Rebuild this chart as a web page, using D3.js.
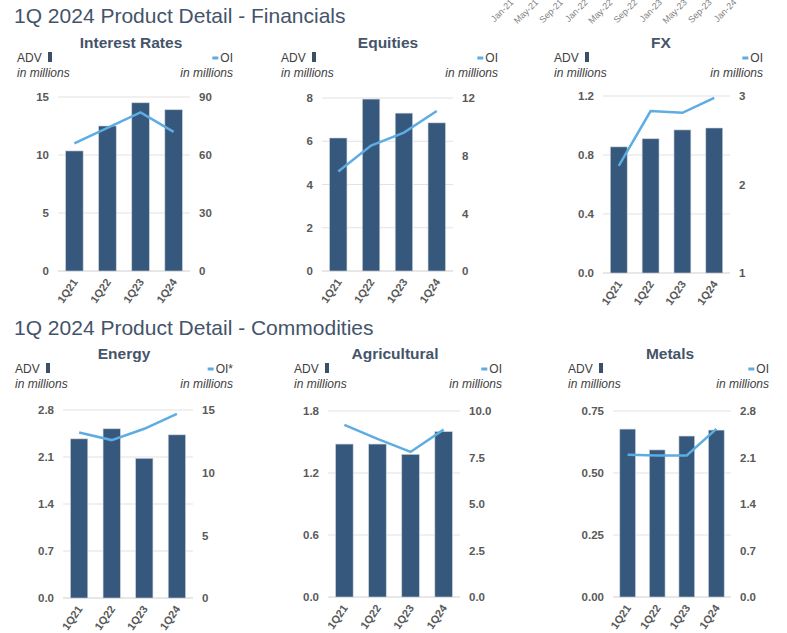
<!DOCTYPE html>
<html>
<head>
<meta charset="utf-8">
<script src="https://cdn.jsdelivr.net/npm/d3@7"></script>
<style>
  body { margin: 0; background: #fff; }
  svg { font-family: "Liberation Sans", Arial, sans-serif; }
</style>
</head>
<body>
<svg id="page" width="787" height="633"></svg>
<script>
/* data */
const quarters = ["1Q21", "1Q22", "1Q23", "1Q24"];
const dateLabels = ["Jan-21", "May-21", "Sep-21", "Jan-22", "May-22", "Sep-22", "Jan-23", "May-23", "Sep-23", "Jan-24"];

const irAdv = [10.35, 12.5, 14.5, 13.9];
const irOi = [66, 74, 82, 72];
const eqAdv = [6.15, 7.95, 7.3, 6.85];
const eqOi = [6.9, 8.7, 9.6, 11.1];
const fxAdv = [0.855, 0.91, 0.97, 0.983];
const fxOi = [2.21, 2.83, 2.81, 2.98];
const enAdv = [2.37, 2.52, 2.08, 2.43];
const enOi = [13.2, 12.6, 13.5, 14.7];
const agAdv = [1.48, 1.48, 1.38, 1.6];
const agOi = [9.25, 8.5, 7.8, 9.0];
const mtAdv = [0.677, 0.593, 0.649, 0.673];
const mtOi = [2.14, 2.13, 2.13, 2.53];

const irTicksL = [0, 5, 10, 15], irTicksR = [0, 30, 60, 90];
const eqTicksL = [0, 2, 4, 6, 8], eqTicksR = [0, 4, 8, 12];
const fxTicksL = [0, 0.4, 0.8, 1.2], fxTicksR = [1, 2, 3];
const enTicksL = [0, 0.7, 1.4, 2.1, 2.8], enTicksR = [0, 5, 10, 15];
const agTicksL = [0, 0.6, 1.2, 1.8], agTicksR = [0, 2.5, 5, 7.5, 10];
const mtTicksL = [0, 0.25, 0.5, 0.75], mtTicksR = [0, 0.7, 1.4, 2.1, 2.8];

const barColor = "#36587c";
const lineColor = "#5dade2";
const titleColor = "#44546a";
const tickColor = "#595959";

let svg = d3.select("#page");

/* leftover date labels, partly cut off at the top */
let dateX = d3.scalePoint().domain(dateLabels).range([514, 737]);
svg.append("g").attr("id", "dates")
    .selectAll("text")
    .data(dateLabels)
    .join("text")
    .attr("transform", d => "translate(" + dateX(d) + ",3) rotate(-45)")
    .attr("text-anchor", "end")
    .style("font-size", "9px")
    .style("fill", "#7f7f7f")
    .text(d => d);

/* section titles */
svg.append("text").attr("x", 14).attr("y", 23)
    .style("font-size", "21px").style("fill", titleColor)
    .text("1Q 2024 Product Detail - Financials");
svg.append("text").attr("x", 14).attr("y", 335)
    .style("font-size", "21px").style("fill", titleColor)
    .text("1Q 2024 Product Detail - Commodities");

function drawPanel(p) {
    let g = svg.append("g").attr("class", "panel");

    let xScale = d3.scaleBand()
        .domain(quarters)
        .range([p.x0, p.x1])
        .paddingInner(0.47)
        .paddingOuter(0.23);

    let yL = d3.scaleLinear().domain(p.domL).range([p.y1, p.y0]);
    let yR = d3.scaleLinear().domain(p.domR).range([p.y1, p.y0]);

    /* titles and legend */
    g.append("text").attr("x", p.titleX).attr("y", p.titleY)
        .attr("text-anchor", "middle")
        .style("font-size", "15.5px").style("font-weight", "bold")
        .style("fill", titleColor).text(p.title);

    g.append("text").attr("x", p.advX).attr("y", p.titleY + 14)
        .style("font-size", "12px").style("fill", "#404040").text("ADV");
    g.append("rect").attr("x", p.advX + 31).attr("y", p.titleY + 4)
        .attr("width", 4).attr("height", 10).style("fill", "#3b5068");
    g.append("text").attr("x", p.advX).attr("y", p.titleY + 29)
        .style("font-size", "12px").style("font-style", "italic")
        .style("fill", "#404040").text("in millions");

    let oiText = g.append("text").attr("x", p.oiX).attr("y", p.titleY + 14)
        .attr("text-anchor", "end")
        .style("font-size", "12px").style("fill", "#404040").text(p.oiLabel);
    let oiW = oiText.node().getComputedTextLength();
    g.append("line")
        .attr("x1", p.oiX - oiW - 8).attr("x2", p.oiX - oiW - 2)
        .attr("y1", p.titleY + 10).attr("y2", p.titleY + 10)
        .style("stroke", lineColor).style("stroke-width", 3);
    g.append("text").attr("x", p.oiX).attr("y", p.titleY + 29)
        .attr("text-anchor", "end")
        .style("font-size", "12px").style("font-style", "italic")
        .style("fill", "#404040").text("in millions");

    /* gridlines */
    g.append("g")
        .selectAll("line")
        .data(p.ticksL)
        .join("line")
        .attr("x1", p.x0).attr("x2", p.x1)
        .attr("y1", d => yL(d)).attr("y2", d => yL(d))
        .style("stroke", d => d === 0 ? "#cfcfcf" : "#e2e2e2")
        .style("stroke-width", 1.2);

    /* axes */
    let axL = g.append("g")
        .attr("transform", "translate(" + (p.x0 - 9) + ",0)")
        .call(d3.axisLeft(yL).tickValues(p.ticksL).tickSize(0).tickFormat(d3.format(p.fmtL)));
    let axR = g.append("g")
        .attr("transform", "translate(" + (p.x1 + 9) + ",0)")
        .call(d3.axisRight(yR).tickValues(p.ticksR).tickSize(0).tickFormat(d3.format(p.fmtR)));
    [axL, axR].forEach(ax => {
        ax.select(".domain").remove();
        ax.selectAll("text")
            .attr("x", null)
            .style("font-size", "11.5px").style("font-weight", "bold")
            .style("fill", tickColor)
            .style("font-family", "'Liberation Sans', Arial, sans-serif");
    });

    let axX = g.append("g")
        .attr("transform", "translate(0," + p.y1 + ")")
        .call(d3.axisBottom(xScale).tickSize(0));
    axX.select(".domain").remove();
    axX.selectAll("text")
        .attr("y", null).attr("dy", null)
        .attr("text-anchor", "end")
        .attr("transform", "translate(4,11) rotate(-55)")
        .style("font-size", "11px").style("font-weight", "bold")
        .style("fill", tickColor)
        .style("font-family", "'Liberation Sans', Arial, sans-serif");

    /* bars */
    g.append("g")
        .selectAll("rect")
        .data(p.adv)
        .join("rect")
        .attr("x", (d, i) => xScale(quarters[i]))
        .attr("width", xScale.bandwidth())
        .attr("y", d => yL(d))
        .attr("height", d => p.y1 - yL(d))
        .style("fill", barColor)
        .style("stroke", "#c9d1db").style("stroke-width", 0.6);

    /* OI line */
    let line = d3.line()
        .x((d, i) => xScale(quarters[i]) + xScale.bandwidth() / 2)
        .y(d => yR(d));
    g.append("path")
        .attr("d", line(p.oi))
        .style("fill", "none")
        .style("stroke", lineColor)
        .style("stroke-width", 2.5);
}

drawPanel({ title: "Interest Rates", titleX: 131, titleY: 48, advX: 17, oiX: 233, oiLabel: "OI",
    x0: 58, x1: 190, y0: 97, y1: 271, domL: [0, 15], domR: [0, 90],
    ticksL: irTicksL, ticksR: irTicksR, fmtL: "d", fmtR: "d", adv: irAdv, oi: irOi });
drawPanel({ title: "Equities", titleX: 388, titleY: 48, advX: 281, oiX: 498, oiLabel: "OI",
    x0: 322, x1: 453, y0: 98, y1: 271, domL: [0, 8], domR: [0, 12],
    ticksL: eqTicksL, ticksR: eqTicksR, fmtL: "d", fmtR: "d", adv: eqAdv, oi: eqOi });
drawPanel({ title: "FX", titleX: 661, titleY: 48, advX: 554, oiX: 763, oiLabel: "OI",
    x0: 603, x1: 730, y0: 96, y1: 273, domL: [0, 1.2], domR: [1, 3],
    ticksL: fxTicksL, ticksR: fxTicksR, fmtL: ".1f", fmtR: "d", adv: fxAdv, oi: fxOi });
drawPanel({ title: "Energy", titleX: 124, titleY: 359, advX: 15, oiX: 233, oiLabel: "OI*",
    x0: 63, x1: 193, y0: 410, y1: 598, domL: [0, 2.8], domR: [0, 15],
    ticksL: enTicksL, ticksR: enTicksR, fmtL: ".1f", fmtR: "d", adv: enAdv, oi: enOi });
drawPanel({ title: "Agricultural", titleX: 395, titleY: 359, advX: 294, oiX: 502, oiLabel: "OI",
    x0: 328, x1: 460, y0: 411, y1: 597, domL: [0, 1.8], domR: [0, 10],
    ticksL: agTicksL, ticksR: agTicksR, fmtL: ".1f", fmtR: ".1f", adv: agAdv, oi: agOi });
drawPanel({ title: "Metals", titleX: 670, titleY: 359, advX: 568, oiX: 769, oiLabel: "OI",
    x0: 613, x1: 731, y0: 411, y1: 597, domL: [0, 0.75], domR: [0, 2.8],
    ticksL: mtTicksL, ticksR: mtTicksR, fmtL: ".2f", fmtR: ".1f", adv: mtAdv, oi: mtOi });
</script>
</body>
</html>
